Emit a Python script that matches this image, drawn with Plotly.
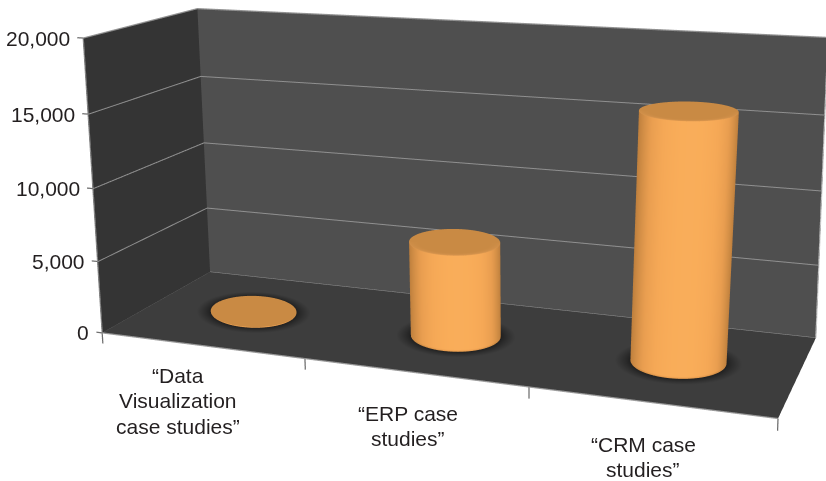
import numpy as np
import plotly.graph_objects as go

# Chart data
categories = ["“Data Visualization case studies”", "“ERP case studies”", "“CRM case studies”"]
values = [50, 6460, 16200]
value_ticks = [0, 5000, 10000, 15000, 20000]
value_tick_labels = ["0", "5,000", "10,000", "15,000", "20,000"]
category_lines = [["“Data", "Visualization", "case studies”"], ["“ERP case", "studies”"], ["“CRM case", "studies”"]]

# Plot box extents in data units
N_CAT = len(categories)
Z_MAX = value_ticks[-1]
X_RANGE = [-0.1, 3.1]
Y_RANGE = [-0.05, 1.05]
Z_RANGE = [-1000, 21000]

# Cylinder footprint and small per-bar corrections to its outline
BAR_RX = [0.22, 0.205, 0.2]
BAR_RY = 0.21
BAR_SKEW = [-0.05, -0.02, 0.0]
BAR_LEAN = [0.0, 0.0, 0.022]
FOOT_BAND = 150

# View: box axes expressed in camera space (right, down, forward)
AX_X = np.array([0.940, 0.068, -0.334])
AX_Y = np.array([0.341, -0.208, 0.917])
AX_Z = np.array([-0.0072, -0.9756, -0.2193])
CORNER = np.array([-0.2457, 0.1216, 1.0])
BOX = np.array([0.4277, 0.1358, 0.1887])
WORLD_SCALE = 2.0

data_len = np.array([N_CAT, 1.0, Z_MAX])
lo = np.array([X_RANGE[0], Y_RANGE[0], Z_RANGE[0]])
hi = np.array([X_RANGE[1], Y_RANGE[1], Z_RANGE[1]])
phys_per_data = BOX / data_len
eye_phys = -np.array([CORNER @ AX_X, CORNER @ AX_Y, CORNER @ AX_Z])
mid_phys = (lo + hi) / 2 * phys_per_data
eye = WORLD_SCALE * (eye_phys - mid_phys)
forward = np.array([AX_X[2], AX_Y[2], AX_Z[2]])
up = -np.array([AX_X[1], AX_Y[1], AX_Z[1]])
look = eye + forward
aspect = WORLD_SCALE * (hi - lo) * phys_per_data

FLAT = dict(ambient=1, diffuse=0, specular=0, roughness=1, fresnel=0)
fig = go.Figure()


def add_surface(x, y, z, shade, scale):
    # Shades stay inside the colour ramp so the lookup never wraps at its ends
    fig.add_trace(go.Surface(
        x=x, y=y, z=z, surfacecolor=0.03 + 0.94 * np.asarray(shade), colorscale=scale,
        cmin=0.0, cmax=1.0, showscale=False, lighting=FLAT, hoverinfo="skip",
    ))


def solid(color):
    return [[0, color], [1, color]]


def add_line(xs, ys, zs, color="#8f8f8f", width=2):
    fig.add_trace(go.Scatter3d(
        x=xs, y=ys, z=zs, mode="lines", line=dict(color=color, width=width),
        hoverinfo="skip", showlegend=False,
    ))


# Walls
add_surface(np.array([[0, 3], [0, 3]]), np.array([[1, 1], [1, 1]]),
            np.array([[0, 0], [Z_MAX, Z_MAX]]), np.zeros((2, 2)), solid("#4f4f4f"))
add_surface(np.array([[0, 0], [0, 0]]), np.array([[0, 1], [0, 1]]),
            np.array([[0, 0], [Z_MAX, Z_MAX]]), np.zeros((2, 2)), solid("#343434"))

# Floor, darkened around the foot of each cylinder
centers = [i + 0.5 for i in range(N_CAT)]
fx, fy = np.meshgrid(np.linspace(0, 3, 600), np.linspace(0, 1, 200))
floor_shade = np.ones_like(fx)
for c, k, rx in zip(centers, BAR_SKEW, BAR_RX):
    d = np.hypot((fx - c) / rx, (fy - 0.5 - k * (fx - c) / rx) / BAR_RY)
    floor_shade = np.minimum(floor_shade, np.clip((d - 1.0) / 0.32, 0, 1) ** 0.8)
add_surface(fx, fy, np.zeros_like(fx), floor_shade, [[0, "#1e1e1e"], [1, "#3e3e3e"]])

# Gridlines on both walls
for t in value_ticks[1:]:
    add_line([0.002, 0.002, 3], [0, 0.998, 0.998], [t, t, t])
add_line([0, 0], [0.002, 1], [1, 1])
add_line([0, 3], [0.998, 0.998], [1, 1])

# Outer edges of the box
add_line([0, 3], [0, 0], [1, 1], "#9a9a9a", 2.5)
add_line([0, 0], [0, 0], [0, Z_MAX], "#8a8a8a", 2.5)
add_line([0, 0, 3], [0, 1, 1], [Z_MAX, Z_MAX, Z_MAX], "#a0a0a0", 2.5)
add_line([3, 3], [1, 1], [0, Z_MAX], "#c8c8c8", 2.5)

# Tick marks
for t in value_ticks:
    add_line([-0.03, 0], [0, 0], [t, t], "#6e6e6e", 2.5)
for i in range(N_CAT + 1):
    add_line([i, i], [0, 0], [-750, 0], "#6e6e6e", 2.5)

# Cylinders
side_scale = [[0, "#b87a3a"], [0.25, "#cf8c45"], [0.5, "#e99e50"], [0.75, "#f5a856"], [1, "#faae5a"]]
cap_scale = [[0, "#c98a44"], [0.5, "#d1904a"], [1, "#e9a053"]]
theta = np.linspace(0, 2 * np.pi, 241)
for c, v, k, lean, rx in zip(centers, values, BAR_SKEW, BAR_LEAN, BAR_RX):
    # Angle of each facet relative to the viewer sets its brightness
    to_eye = eye_phys[:2] - np.array([c, 0.5]) * phys_per_data[:2]
    view = to_eye / np.hypot(*to_eye)
    facing = np.clip(np.cos(theta) * view[0] + np.sin(theta) * view[1], 0, 1)
    skew = -np.cos(theta) * view[1] + np.sin(theta) * view[0]
    shade = np.clip(facing ** 1.6 * (1 + 0.12 * skew), 0, 1)
    levels = np.array([0.0, min(FOOT_BAND, float(v)), float(v)])
    tt, hh = np.meshgrid(theta, levels)
    xx = c + rx * np.cos(tt) + lean * hh / max(values)
    yy = 0.5 + BAR_RY * np.sin(tt) + k * np.cos(tt)
    # Side wall, dimmed along its foot
    add_surface(xx, yy, hh, np.vstack([shade * 0.35, shade, shade]), side_scale)
    # End cap with a lighter bevel on the near rim of standing bars
    rho = np.linspace(0, 1, 50)
    rr, pp = np.meshgrid(rho, theta)
    near = np.clip(np.cos(pp) * view[0] + np.sin(pp) * view[1], 0, 1)
    rim = np.clip((rr - 0.8) / 0.2, 0, 1) ** 1.5 * near ** 0.5 if v > 1000 else np.zeros_like(rr)
    add_surface(c + lean * v / max(values) + rx * rr * np.cos(pp),
                0.5 + BAR_RY * rr * np.sin(pp) + k * rr * np.cos(pp),
                np.full_like(rr, float(v)), rim, cap_scale)

# Text, anchored to the plot box
FONT = dict(family="Liberation Sans", size=21, color="#231f20")
annotations = []
for t, lab in zip(value_ticks, value_tick_labels):
    annotations.append(dict(x=0, y=0, z=t, text=lab, showarrow=False, xanchor="right",
                            yanchor="middle", xshift=-11, yshift=0, font=FONT))
label_offsets = [(-23, -30), (-6, -41), (-7, -42)]
LINE_STEP = 25.5
for c, lines, (dx, dy) in zip(centers, category_lines, label_offsets):
    for k, line in enumerate(lines):
        annotations.append(dict(x=c, y=0, z=0, text=line, showarrow=False, xanchor="center",
                                yanchor="middle", xshift=dx, yshift=dy - k * LINE_STEP, font=FONT))

hidden = dict(visible=False, showgrid=False, zeroline=False, showspikes=False)
fig.update_layout(
    width=980, height=1308, autosize=False,
    margin=dict(l=0, r=0, t=0, b=0),
    paper_bgcolor="white", showlegend=False,
    scene=dict(
        domain=dict(x=[0, 1], y=[0, 1]),
        xaxis=dict(range=X_RANGE, **hidden),
        yaxis=dict(range=Y_RANGE, **hidden),
        zaxis=dict(range=Z_RANGE, **hidden),
        aspectmode="manual",
        aspectratio=dict(x=aspect[0], y=aspect[1], z=aspect[2]),
        camera=dict(
            eye=dict(x=eye[0], y=eye[1], z=eye[2]),
            center=dict(x=look[0], y=look[1], z=look[2]),
            up=dict(x=up[0], y=up[1], z=up[2]),
            projection=dict(type="perspective"),
        ),
        annotations=annotations,
        bgcolor="white",
    ),
)

# The lens is centred high in the frame, so the graph div sits above the page top
page_script = """
var gd = document.getElementById('{plot_id}');
gd.style.marginTop = '-513px';
document.documentElement.style.overflow = 'hidden';
document.body.style.overflow = 'hidden';
document.documentElement.style.height = '481px';
document.body.style.height = '481px';
"""
fig.write_html("out.html", post_script=page_script, config=dict(displayModeBar=False))
